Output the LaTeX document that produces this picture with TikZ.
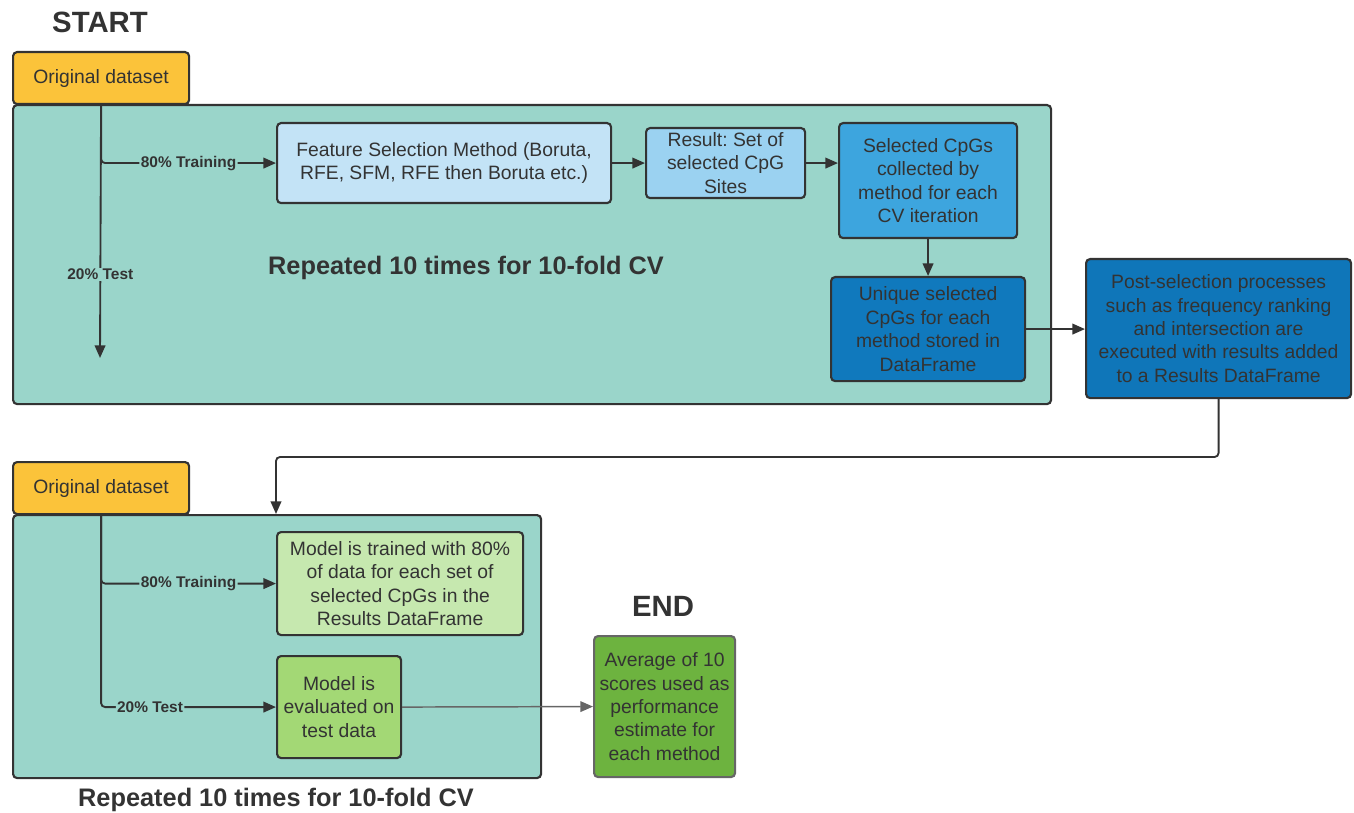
\documentclass[tikz,border=0pt]{standalone}
\usepackage{fontspec}
\setmainfont{Liberation Sans}
\frenchspacing
\usetikzlibrary{arrows.meta}
\definecolor{ink}{HTML}{333333}
\definecolor{orng}{HTML}{FBC33A}
\definecolor{tealbg}{HTML}{9AD5CA}
\definecolor{fsc}{HTML}{C3E3F6}
\definecolor{resc}{HTML}{9BD2F1}
\definecolor{selc}{HTML}{3DA5DE}
\definecolor{uniqc}{HTML}{1079BD}
\definecolor{postc}{HTML}{0F76B9}
\definecolor{mtc}{HTML}{C6E8AF}
\definecolor{mec}{HTML}{A3D875}
\definecolor{avgc}{HTML}{6DB33F}
\definecolor{greyl}{HTML}{666666}
\tikzset{
  bx/.style={draw=ink, line width=1.6pt, rounded corners=3pt, align=center, text=ink,
    font=\fontsize{14.5}{17.6}\selectfont, inner sep=0pt, anchor=north west},
  panel/.style={draw=ink, line width=1.6pt, rounded corners=3pt, fill=tealbg, inner sep=0pt, anchor=north west},
  arr/.style={draw=ink, line width=1.4pt, -{Triangle[length=9.5pt,width=8pt]}},
  lab/.style={fill=tealbg, text=ink, font=\bfseries\fontsize{11.6}{13}\selectfont, inner sep=1pt},
  ttl/.style={text=ink, font=\bfseries\fontsize{22}{24}\selectfont},
  rep/.style={text=ink, font=\bfseries\fontsize{19}{22}\selectfont},
}
\begin{document}
\begin{tikzpicture}[x=0.75pt,y=-0.75pt]
\useasboundingbox (0,0) rectangle (1354,813);
% titles
\node[ttl] (start) at (100,22) {START};
\node[ttl] (endt) at (663,606) {END};
% panel 1
\node[panel, minimum width=1038*0.75pt, minimum height=299*0.75pt] (cv1) at (12,104) {};
\node[bx, fill=orng, minimum width=176*0.75pt, minimum height=52*0.75pt] (ds1) at (12,51) {Original dataset};
\node[bx, fill=fsc, minimum width=334*0.75pt, minimum height=80*0.75pt] (fs) at (276,122) {Feature Selection Method (Boruta,\\RFE, SFM, RFE then Boruta etc.)};
\node[bx, fill=resc, minimum width=159*0.75pt, minimum height=70*0.75pt] (res) at (645,127) {Result: Set of\\selected CpG\\Sites};
\node[bx, fill=selc, minimum width=178*0.75pt, minimum height=115*0.75pt] (sel) at (838,122) {Selected CpGs\\collected by\\method for each\\CV iteration};
\node[bx, fill=uniqc, minimum width=194*0.75pt, minimum height=104*0.75pt] (uniq) at (830,276) {Unique selected\\CpGs for each\\method stored in\\DataFrame};
\node[bx, fill=postc, minimum width=265*0.75pt, minimum height=139*0.75pt] (post) at (1085,258) {Post-selection processes\\such as frequency ranking\\and intersection are\\executed with results added\\to a Results DataFrame};
\node[rep] (rep1) at (466,268) {Repeated 10 times for 10-fold CV};
\coordinate (end1) at (100,358);
\draw[arr] (ds1.south) -- (end1) node[lab, pos=0.67] {20\% Test};
\draw[arr, rounded corners=3pt] (ds1.south) |- (fs.west) node[lab, pos=0.75] {80\% Training};
\draw[arr] (fs.east) -- (res.west);
\draw[arr] (res.east) -- (sel.west |- res.east);
\draw[arr] (sel.south) -- (sel.south |- uniq.north);
\draw[arr] (uniq.east) -- (post.west |- uniq.east);
% connector to panel 2
\coordinate (turn) at (1217.5,457);
% panel 2
\node[panel, minimum width=528*0.75pt, minimum height=263*0.75pt] (cv2) at (12,514) {};
\node[bx, fill=orng, minimum width=176*0.75pt, minimum height=52*0.75pt] (ds2) at (12,461) {Original dataset};
\node[bx, fill=mtc, minimum width=246*0.75pt, minimum height=103*0.75pt] (mt) at (276,531) {Model is trained with 80\%\\of data for each set of\\selected CpGs in the\\Results DataFrame};
\node[bx, fill=mec, minimum width=124*0.75pt, minimum height=102*0.75pt] (me) at (276,655) {Model is\\evaluated on\\test data};
\node[bx, fill=avgc, draw=greyl, minimum width=141*0.75pt, minimum height=141*0.75pt] (avg) at (593,635) {Average of 10\\scores used as\\performance\\estimate for\\each method};
\node[rep] (rep2) at (276,800) {Repeated 10 times for 10-fold CV};
\draw[arr, rounded corners=3pt] (post.south) -- (post.south |- turn) -| (cv2.north -| mt.west);
\draw[arr, rounded corners=3pt] (ds2.south) |- (mt.west) node[lab, pos=0.75] {80\% Training};
\draw[arr, rounded corners=3pt] (ds2.south) |- (me.west) node[lab, pos=0.64] {20\% Test};
\draw[arr, draw=greyl, line width=1.1pt] (me.east) -- (avg.west);
\end{tikzpicture}
\end{document}
